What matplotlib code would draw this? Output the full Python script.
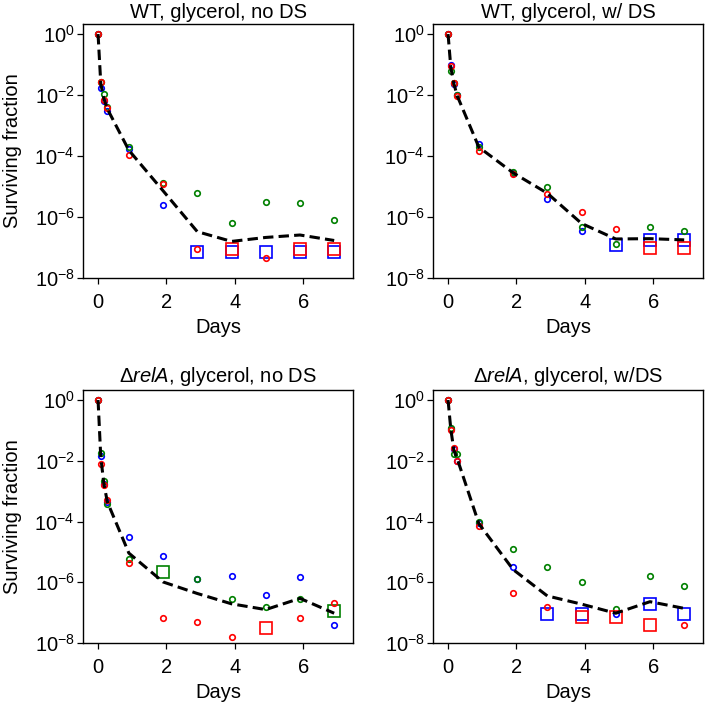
import matplotlib

matplotlib.use("Agg")
import matplotlib.pyplot as plt
import numpy as np
from matplotlib.ticker import NullLocator

plt.rcParams.update({
    "font.family": ["Liberation Sans", "DejaVu Sans"],
    "font.size": 14.5,
    "mathtext.fontset": "custom",
    "mathtext.rm": "Liberation Sans",
    "mathtext.it": "Liberation Sans:italic",
    "mathtext.bf": "Liberation Sans:bold",
    "axes.linewidth": 1.0,
    "xtick.major.size": 4,
    "ytick.major.size": 4,
    "xtick.major.width": 0.9,
    "ytick.major.width": 0.9,
})

BLUE, GREEN, RED = "#0000ff", "#008000", "#ff0000"

DAYS = [0, 0.08, 0.17, 0.27, 0.9, 1.9, 2.9, 3.9, 4.9, 5.9, 6.9]
TITLES = ["WT, glycerol, no DS", "WT, glycerol, w/ DS",
          r"Δ$\it{relA}$, glycerol, no DS", r"Δ$\it{relA}$, glycerol, w/DS"]

# log10(surviving fraction) per replicate
WT_NODS_BLUE = [0, -1.76, -2.20, -2.53, -3.76, -5.61, -7.16, -7.16, -7.16, -7.16, -7.16]
WT_NODS_GREEN = [0, -1.56, -1.98, -2.39, -3.70, -4.90, -5.22, -6.18, -5.50, -5.55, -6.11]
WT_NODS_RED = [0, -1.56, -2.17, -2.42, -3.98, -4.91, -7.05, -7.05, -7.36, -7.05, -7.05]
WT_NODS_MEAN = [0, -1.63, -2.12, -2.45, -3.81, -5.14, -6.48, -6.80, -6.67, -6.59, -6.77]
WT_NODS_SQ = {"b": [6, 7, 8, 9, 10], "g": [], "r": [7, 9, 10]}

WT_DS_BLUE = [0, -1.02, -1.65, -2.00, -3.62, -4.55, -5.41, -6.47, -6.91, -6.76, -6.76]
WT_DS_GREEN = [0, -1.21, -1.62, -2.00, -3.70, -4.52, -5.01, -6.34, -6.88, -6.34, -6.47]
WT_DS_RED = [0, -1.05, -1.60, -2.04, -3.82, -4.58, -5.24, -5.83, -6.38, -7.03, -7.03]
WT_DS_MEAN = [0, -1.09, -1.63, -2.03, -3.71, -4.55, -5.22, -6.21, -6.72, -6.71, -6.75]
WT_DS_SQ = {"b": [8, 9, 10], "g": [], "r": [9, 10]}

RELA_NODS_BLUE = [0, -1.83, -2.75, -3.35, -4.50, -5.14, -5.88, -5.78, -6.42, -5.83, -7.42]
RELA_NODS_GREEN = [0, -1.75, -2.68, -3.43, -5.25, -5.65, -5.90, -6.56, -6.80, -6.56, -6.95]
RELA_NODS_RED = [0, -2.10, -2.81, -3.28, -5.38, -7.19, -7.32, -7.80, -7.49, -7.19, -6.68]
RELA_NODS_MEAN = [0, -1.89, -2.75, -3.35, -5.04, -5.99, -6.37, -6.71, -6.90, -6.53, -7.02]
RELA_NODS_SQ = {"b": [], "g": [5, 10], "r": [8]}

RELA_DS_BLUE = [0, -0.97, -1.62, -2.00, -4.05, -5.49, -7.05, -7.05, -7.05, -6.72, -7.05]
RELA_DS_GREEN = [0, -0.93, -1.77, -1.79, -4.01, -4.89, -5.49, -5.98, -6.88, -5.79, -6.11]
RELA_DS_RED = [0, -0.98, -1.57, -2.02, -4.16, -6.37, -6.82, -7.13, -7.13, -7.41, -7.41]
RELA_DS_MEAN = [0, -0.96, -1.65, -1.94, -4.07, -5.58, -6.45, -6.72, -7.02, -6.64, -6.86]
RELA_DS_SQ = {"b": [6, 7, 9, 10], "g": [], "r": [7, 8, 9]}

PANELS = [
    (WT_NODS_BLUE, WT_NODS_GREEN, WT_NODS_RED, WT_NODS_MEAN, WT_NODS_SQ),
    (WT_DS_BLUE, WT_DS_GREEN, WT_DS_RED, WT_DS_MEAN, WT_DS_SQ),
    (RELA_NODS_BLUE, RELA_NODS_GREEN, RELA_NODS_RED, RELA_NODS_MEAN, RELA_NODS_SQ),
    (RELA_DS_BLUE, RELA_DS_GREEN, RELA_DS_RED, RELA_DS_MEAN, RELA_DS_SQ),
]

W, H = 707, 705
# axes boxes in pixels: left, top, right, bottom
BOXES = [(83, 24, 353, 278), (433, 24, 703, 278),
         (83, 390, 353, 643), (433, 390, 703, 643)]

fig = plt.figure(figsize=(W / 100, H / 100), dpi=100)
days = np.array(DAYS)

for k, ((blue, green, red, mean, sq), (l, t, r, b)) in enumerate(zip(PANELS, BOXES)):
    ax = fig.add_axes([l / W, 1 - b / H, (r - l) / W, (b - t) / H])
    for vals, col, key in ((blue, BLUE, "b"), (green, GREEN, "g"), (red, RED, "r")):
        y = 10.0 ** np.array(vals)
        is_sq = np.zeros(len(y), bool)
        is_sq[sq[key]] = True
        ax.plot(days[~is_sq], y[~is_sq], "o", ms=4, mfc="none", mec=col, mew=1.2)
        ax.plot(days[is_sq], y[is_sq], "s", ms=8.4, mfc="none", mec=col, mew=1.2)
    ax.plot(days, 10.0 ** np.array(mean), color="black", lw=2.2, dashes=(3.4, 1.7))

    ax.set_yscale("log")
    ax.set_ylim(1e-8, 10 ** 0.33)
    ax.set_xlim(-0.44, 7.45)
    ax.set_yticks([1, 1e-2, 1e-4, 1e-6, 1e-8])
    ax.yaxis.set_minor_locator(NullLocator())
    ax.set_xticks([0, 2, 4, 6])
    ax.tick_params(axis="x", pad=7)
    ax.tick_params(axis="y", pad=2)
    ax.set_title(TITLES[k], pad=4.5 if k < 2 else 6, fontsize=14.5)
    ax.set_xlabel("Days", labelpad=4)
    if k % 2 == 0:
        ax.set_ylabel("Surviving fraction", labelpad=9)

fig.savefig("out.png", dpi=100)
